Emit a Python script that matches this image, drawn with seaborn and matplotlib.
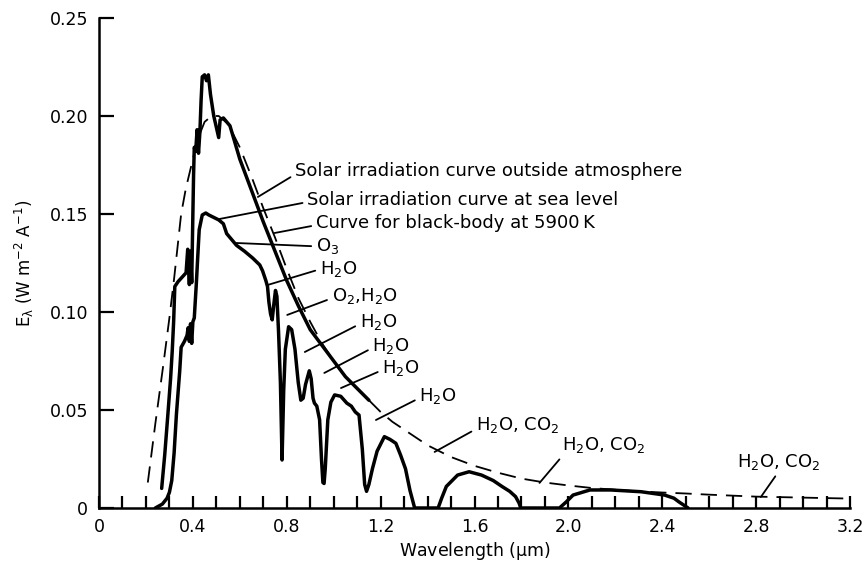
import numpy as np
import pandas as pd
import matplotlib
matplotlib.use("Agg")
import matplotlib.pyplot as plt
import seaborn as sns

# ---- data ------------------------------------------------------------------
# black-body curve at 5900 K (dashed)
bb_wl = [0.208, 0.24, 0.274, 0.30, 0.32, 0.35, 0.37, 0.392, 0.42, 0.45,
         0.48, 0.51, 0.55, 0.60, 0.65, 0.70, 0.75, 0.80, 0.85, 0.90,
         0.95, 1.00, 1.05, 1.10, 1.15, 1.20, 1.25, 1.30, 1.40, 1.50,
         1.60, 1.70, 1.80, 1.90, 2.00, 2.10, 2.20, 2.30, 2.40, 2.50,
         2.60, 2.70, 2.80, 3.00, 3.20]
bb_e = [0.013, 0.043, 0.073, 0.097, 0.117, 0.150, 0.163, 0.174, 0.188, 0.197,
        0.200, 0.200, 0.196, 0.184, 0.169, 0.153, 0.138, 0.122, 0.107, 0.095,
        0.084, 0.075, 0.067, 0.061, 0.055, 0.049, 0.044, 0.040, 0.032, 0.026,
        0.0215, 0.018, 0.015, 0.013, 0.0115, 0.0102, 0.0093, 0.0085, 0.0079, 0.0074,
        0.0068, 0.0063, 0.0058, 0.0053, 0.0048]

# solar irradiation outside atmosphere (thick solid)
out_wl = [0.267, 0.28, 0.293, 0.305, 0.312, 0.318, 0.323, 0.337, 0.371, 0.378,
          0.385, 0.39, 0.395, 0.40, 0.403, 0.406, 0.412, 0.418, 0.424, 0.43,
          0.435, 0.44, 0.45, 0.458, 0.466, 0.475, 0.489, 0.51, 0.516, 0.53,
          0.558, 0.60, 0.65, 0.70, 0.75, 0.80, 0.85, 0.90, 0.95, 1.00,
          1.05, 1.10, 1.15]
out_e = [0.010, 0.027, 0.047, 0.066, 0.080, 0.095, 0.113, 0.1155, 0.120, 0.132,
         0.114, 0.131, 0.115, 0.150, 0.170, 0.184, 0.182, 0.193, 0.181, 0.192,
         0.208, 0.220, 0.221, 0.218, 0.221, 0.211, 0.200, 0.189, 0.198, 0.199,
         0.195, 0.178, 0.162, 0.146, 0.131, 0.116, 0.103, 0.091, 0.083, 0.075,
         0.067, 0.061, 0.055]

# solar irradiation at sea level (thick solid)
sea_wl = [0.24, 0.27, 0.29, 0.30, 0.31, 0.32, 0.33, 0.344, 0.35, 0.364,
          0.375, 0.38, 0.385, 0.39, 0.395, 0.40, 0.406, 0.415, 0.42, 0.427,
          0.44, 0.455, 0.468, 0.51, 0.53, 0.544, 0.586, 0.62, 0.655, 0.685,
          0.697, 0.711, 0.718, 0.724, 0.731, 0.738, 0.745, 0.752, 0.758, 0.765,
          0.773, 0.78, 0.787, 0.794, 0.808, 0.821, 0.835, 0.849, 0.860, 0.870,
          0.880, 0.896, 0.904, 0.912, 0.918, 0.928, 0.940, 0.948, 0.954, 0.959,
          0.964, 0.975, 0.988, 1.004, 1.03, 1.056, 1.075, 1.092, 1.108, 1.122,
          1.132, 1.140, 1.150, 1.165, 1.185, 1.216, 1.24, 1.265, 1.285, 1.306,
          1.325, 1.345, 1.445, 1.46, 1.48, 1.528, 1.577, 1.63, 1.68, 1.717,
          1.75, 1.775, 1.79, 1.797, 1.962, 1.99, 2.02, 2.092, 2.18, 2.31,
          2.41, 2.45, 2.47, 2.51]
sea_e = [0.0, 0.002, 0.005, 0.008, 0.014, 0.028, 0.048, 0.070, 0.082, 0.085,
         0.088, 0.092, 0.085, 0.094, 0.084, 0.095, 0.097, 0.115, 0.1265, 0.142,
         0.1495, 0.1505, 0.1495, 0.147, 0.145, 0.140, 0.134, 0.131, 0.1275, 0.124,
         0.121, 0.116, 0.113, 0.105, 0.099, 0.096, 0.104, 0.111, 0.108, 0.090,
         0.064, 0.0245, 0.060, 0.081, 0.0925, 0.091, 0.081, 0.064, 0.055, 0.056,
         0.063, 0.070, 0.066, 0.056, 0.0535, 0.052, 0.045, 0.025, 0.013, 0.0125,
         0.020, 0.045, 0.054, 0.0577, 0.057, 0.0535, 0.052, 0.049, 0.0474, 0.030,
         0.012, 0.0085, 0.012, 0.020, 0.029, 0.0364, 0.035, 0.033, 0.027, 0.020,
         0.009, 0.0, 0.0, 0.005, 0.011, 0.0168, 0.0185, 0.0168, 0.014, 0.011,
         0.0085, 0.0058, 0.0025, 0.0, 0.0, 0.003, 0.0066, 0.0092, 0.0092, 0.0083,
         0.0066, 0.005, 0.0032, 0.0]

# annotation labels: text, point on curve, text anchor, leader start on text (relpos)
ann_text = ["Solar irradiation curve outside atmosphere",
            "Solar irradiation curve at sea level",
            "Curve for black-body at 5900\u2009K",
            "O$_3$", "H$_2$O", "O$_2$,H$_2$O", "H$_2$O", "H$_2$O", "H$_2$O", "H$_2$O",
            "H$_2$O, CO$_2$", "H$_2$O, CO$_2$", "H$_2$O, CO$_2$"]
ann_xy = [(0.677, 0.1587), (0.511, 0.1474), (0.748, 0.1403), (0.586, 0.1352),
          (0.719, 0.1138), (0.802, 0.0985), (0.877, 0.0796), (0.960, 0.0689),
          (1.031, 0.0612), (1.180, 0.0449), (1.430, 0.0286), (1.877, 0.0128),
          (2.820, 0.0056)]
ann_txt = [(0.835, 0.172), (0.887, 0.157), (0.924, 0.1452), (0.924, 0.1335),
           (0.941, 0.1218), (0.991, 0.1080), (1.111, 0.0949), (1.165, 0.0827),
           (1.207, 0.0714), (1.365, 0.0571), (1.606, 0.0423), (1.974, 0.0321),
           (2.720, 0.0235)]
ann_rel = [(0, 0.3), (0, 0.4), (0, 0.4), (0, 0.5), (0, 0.5), (0, 0.4), (0, 0.4),
           (0, 0.4), (0, 0.4), (0, 0.4), (0, 0.3), (0.03, 0.1), (0.5, 0.05)]

xtick_vals = [0, 0.4, 0.8, 1.2, 1.6, 2.0, 2.4, 2.8, 3.2]
xtick_labels = ["0", "0.4", "0.8", "1.2", "1.6", "2.0", "2.4", "2.8", "3.2"]
ytick_vals = [0, 0.05, 0.10, 0.15, 0.20, 0.25]
ytick_labels = ["0", "0.05", "0.10", "0.15", "0.20", "0.25"]

# ---- drawing ----------------------------------------------------------------
sns.set_style("ticks")
plt.rcParams["font.family"] = ["DejaVu Sans"]
plt.rcParams["mathtext.default"] = "regular"
plt.rcParams["text.color"] = "black"
plt.rcParams["axes.labelcolor"] = "black"
plt.rcParams["xtick.color"] = "black"
plt.rcParams["ytick.color"] = "black"

fig = plt.figure(figsize=(8.66, 5.62), dpi=100)
ax = fig.add_axes([99 / 866, 1 - 508 / 562, (850 - 99) / 866, (508 - 18) / 562])

bb = pd.DataFrame({"wl": bb_wl, "e": bb_e})
out = pd.DataFrame({"wl": out_wl, "e": out_e})
sea = pd.DataFrame({"wl": sea_wl, "e": sea_e})

sns.lineplot(data=bb, x="wl", y="e", ax=ax, color="black", lw=1.3,
             linestyle=(0, (9, 5)), sort=False, estimator=None)
sns.lineplot(data=out, x="wl", y="e", ax=ax, color="black", lw=2.5,
             sort=False, estimator=None, solid_joinstyle="round")
sns.lineplot(data=sea, x="wl", y="e", ax=ax, color="black", lw=2.5,
             sort=False, estimator=None, solid_joinstyle="round")

for t, xy, xt, rp in zip(ann_text, ann_xy, ann_txt, ann_rel):
    ax.annotate(t, xy=xy, xytext=xt, ha="left", va="center", fontsize=13,
                color="black",
                arrowprops=dict(arrowstyle="-", color="black", lw=1.3,
                                shrinkA=1, shrinkB=0, relpos=rp))

ax.set_xlim(0, 3.2)
ax.set_ylim(0, 0.25)
ax.set_xticks(xtick_vals)
ax.set_xticklabels(xtick_labels, fontsize=12.5)
ax.set_xticks(np.round(np.arange(0, 3.21, 0.1), 2), minor=True)
ax.set_yticks(ytick_vals)
ax.set_yticklabels(ytick_labels, fontsize=12.5)
ax.tick_params(axis="both", which="both", direction="in", width=1.6, colors="black")
ax.tick_params(axis="x", which="both", length=9, pad=7)
ax.tick_params(axis="y", which="major", length=11, pad=8)

ax.set_xlabel("Wavelength ($\\mu$m)", fontsize=12.5, labelpad=3)
ax.set_ylabel("E$_\\lambda$ (W m$^{-2}$ A$^{-1}$)", fontsize=12, labelpad=10)

sns.despine(ax=ax)
for s in ("left", "bottom"):
    ax.spines[s].set_linewidth(1.8)
    ax.spines[s].set_color("black")

fig.savefig("out.png", dpi=100)
